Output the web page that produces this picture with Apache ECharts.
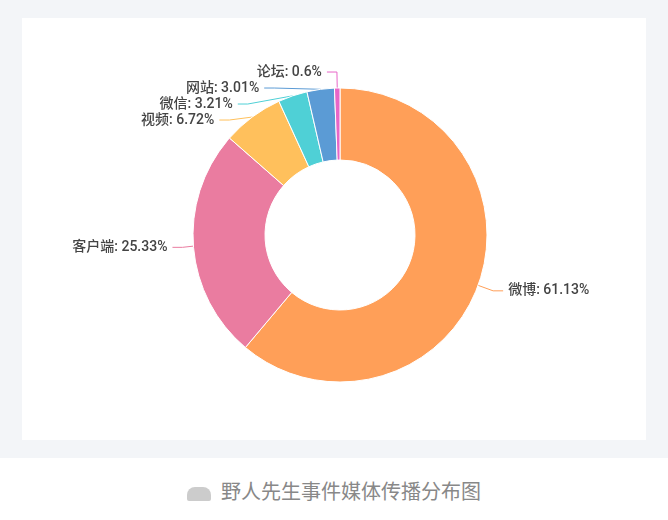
<!DOCTYPE html><html><head><meta charset="utf-8">
<script src="https://cdn.jsdelivr.net/npm/echarts@6/dist/echarts.min.js"></script>
<style>body{margin:0;background:#fff;width:668px;height:520px;overflow:hidden;font-family:"Noto Sans CJK SC",sans-serif}
#bg{position:absolute;left:0;top:0;width:668px;height:458px;background:#f3f5f8}
#c{position:absolute;left:22px;top:18px;width:624px;height:422px;background:#fff}
#cap{position:absolute;left:0;top:476px;width:668px;text-align:center;color:#888;font-size:20px}
#cap span.icon{display:inline-block;width:24px;height:14px;background:#ccc;border-radius:8px 8px 2px 2px;margin-right:10px;vertical-align:middle}
</style></head><body>
<div id="bg"></div><div id="c"></div>
<div id="cap"><span class="icon"></span>野人先生事件媒体传播分布图</div>
<script>
const categories=['微博','客户端','视频','微信','网站','论坛'];
const values=[61.13,25.33,6.72,3.21,3.01,0.6];
const colors=['#ff9f58','#ea7ca0','#ffc05c','#4fd0d6','#5b9bd5','#e866c8'];
const chart=echarts.init(document.getElementById('c'));
chart.setOption({
 series:[{type:'pie',center:[318,217],radius:[75,147],startAngle:90,clockwise:true,
  avoidLabelOverlap:true,
  itemStyle:{borderColor:'#fff',borderWidth:1},
  label:{formatter:'{b}: {c}%',color:'#444',fontSize:14,fontWeight:500,fontFamily:'Roboto, "Noto Sans CJK SC"'},
  labelLine:{length:16,length2:10},
  data:categories.map((n,i)=>({name:n,value:values[i],itemStyle:{color:colors[i]}}))}]
});
</script></body></html>
